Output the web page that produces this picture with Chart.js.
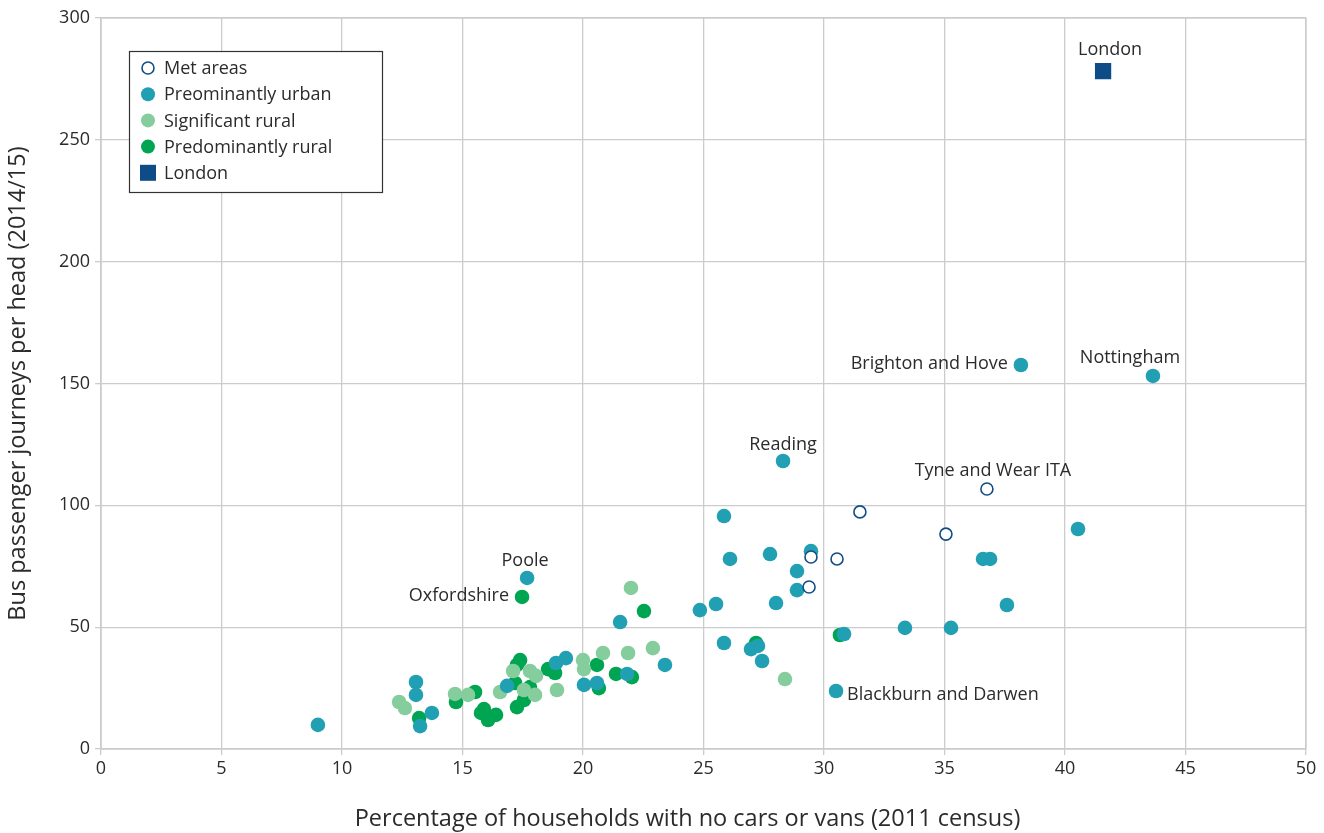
<!DOCTYPE html>
<html>
<head>
<meta charset="utf-8">
<script src="https://cdn.jsdelivr.net/npm/chart.js@4"></script>
<style>
  html, body { margin: 0; padding: 0; background: #fff; }
  #wrap { width: 1324px; height: 833px; }
</style>
</head>
<body>
<div id="wrap"><canvas id="BusChart"></canvas></div>
<script>
// values: x = % households with no car, y = journeys per head
var metX = [36.76, 31.49, 35.06, 29.46, 30.54, 29.38];
var metY = [106.7, 97.3, 88.2, 78.8, 78.0, 66.5];

var urbanX = [9.00, 13.07, 13.07, 13.24, 13.73, 16.85, 18.88, 19.29, 20.04, 20.58, 21.83, 23.40, 21.54, 17.68,
  24.85, 25.52, 25.85, 26.10, 25.85, 27.26, 26.97, 27.43, 27.76, 28.01, 28.30, 28.88, 28.88, 29.46,
  30.83, 30.50, 33.36, 35.27, 36.60, 36.89, 37.59, 40.54, 38.17, 43.65];
var urbanY = [9.9, 27.5, 22.2, 9.4, 14.8, 25.9, 35.3, 37.3, 26.3, 27.1, 30.8, 34.5, 52.1, 70.2,
  57.0, 59.5, 95.6, 78.0, 43.5, 42.3, 41.0, 36.1, 80.0, 59.9, 118.2, 73.0, 65.2, 81.2,
  47.2, 23.8, 49.7, 49.7, 78.0, 78.0, 59.1, 90.3, 157.6, 153.1];

var sigRuralX = [12.37, 12.61, 14.69, 15.23, 16.56, 17.55, 18.01, 17.10, 17.80, 18.05, 18.92, 20.00, 20.04,
  20.83, 21.87, 22.90, 21.99, 28.38];
var sigRuralY = [19.3, 16.8, 22.6, 22.2, 23.4, 24.2, 22.2, 32.0, 32.0, 30.0, 24.2, 36.5, 32.8,
  39.4, 39.4, 41.4, 66.1, 28.7];

var predRuralX = [13.20, 14.73, 15.52, 15.77, 15.89, 16.06, 16.39, 17.18, 17.26, 17.55, 17.80, 17.39, 17.26,
  18.55, 18.84, 20.58, 20.66, 21.37, 22.03, 22.53, 17.47, 27.18, 30.66];
var predRuralY = [12.7, 19.3, 23.4, 14.8, 16.4, 11.9, 14.0, 27.1, 17.2, 20.1, 25.4, 36.5, 34.5,
  32.8, 31.2, 34.5, 25.0, 30.8, 29.5, 56.6, 62.4, 43.5, 46.8];

var londonX = [41.58];
var londonY = [278.2];

var seriesNames = ["Met areas", "Preominantly urban", "Significant rural", "Predominantly rural", "London"];
var xTitle = "Percentage of households with no cars or vans (2011 census)";
var yTitle = "Bus passenger journeys per head (2014/15)";

// named points: series index, point index in that series
var pointLabels = [
  { text: "London", series: 4, index: 0 },
  { text: "Nottingham", series: 1, index: 37 },
  { text: "Brighton and Hove", series: 1, index: 36 },
  { text: "Reading", series: 1, index: 24 },
  { text: "Tyne and Wear ITA", series: 0, index: 0 },
  { text: "Poole", series: 1, index: 13 },
  { text: "Oxfordshire", series: 3, index: 20 },
  { text: "Blackburn and Darwen", series: 1, index: 29 }
];
// where each label sits relative to its point (pixels)
var labelPlace = {
  "London": [7, -21, "center"],
  "Nottingham": [-23, -18, "center"],
  "Brighton and Hove": [-13, -1, "right"],
  "Reading": [0, -16, "center"],
  "Tyne and Wear ITA": [6, -18, "center"],
  "Poole": [-2, -17, "center"],
  "Oxfordshire": [-13, -1, "right"],
  "Blackburn and Darwen": [11, 4, "left"]
};

function toPoints(xs, ys) {
  return xs.map(function (x, i) { return { x: x, y: ys[i] }; });
}

var FONT = "'Open Sans', Lato, sans-serif";
var TEXT = "#2b2b2b";

var labelPlugin = {
  id: "pointLabels",
  afterDatasetsDraw: function (chart) {
    var ctx = chart.ctx;
    ctx.save();
    ctx.font = "18px " + FONT;
    ctx.fillStyle = TEXT;
    ctx.textBaseline = "middle";
    pointLabels.forEach(function (l) {
      var el = chart.getDatasetMeta(l.series).data[l.index];
      var p = labelPlace[l.text];
      ctx.textAlign = p[2];
      ctx.fillText(l.text, el.x + p[0], el.y + p[1]);
    });
    // x axis title sits a little left of the plot centre in the original
    var a = chart.chartArea;
    ctx.font = "23.5px " + FONT;
    ctx.textAlign = "center";
    ctx.fillText(xTitle, (a.left + a.right) / 2 - 16, a.bottom + 70);
    ctx.restore();
  }
};

var legendPlugin = {
  id: "boxLegend",
  afterDraw: function (chart) {
    var ctx = chart.ctx;
    var bx = 129, by = 51, bw = 253, bh = 141;
    ctx.save();
    ctx.fillStyle = "#fff";
    ctx.fillRect(bx, by, bw, bh);
    ctx.strokeStyle = "#333";
    ctx.lineWidth = 1.2;
    ctx.strokeRect(bx + 0.5, by + 0.5, bw, bh);
    ctx.font = "18px " + FONT;
    ctx.textBaseline = "middle";
    ctx.textAlign = "left";
    chart.data.datasets.forEach(function (ds, i) {
      var cy = by + 17 + i * 26.2;
      var cx = bx + 19;
      ctx.beginPath();
      if (ds.pointStyle === "rect") {
        ctx.fillStyle = ds.backgroundColor;
        ctx.fillRect(cx - 8, cy - 8, 16, 16);
      } else {
        ctx.arc(cx, cy, ds.borderWidth > 1 ? 6 : 7, 0, Math.PI * 2);
        ctx.fillStyle = ds.backgroundColor;
        ctx.fill();
        if (ds.borderWidth > 1) {
          ctx.lineWidth = ds.borderWidth;
          ctx.strokeStyle = ds.borderColor;
          ctx.stroke();
        }
      }
      ctx.fillStyle = TEXT;
      ctx.fillText(ds.label, bx + 35, cy + 1);
    });
    ctx.restore();
  }
};

var ctx = document.getElementById("BusChart").getContext("2d");
var bus_chart = new Chart(ctx, {
  type: "scatter",
  data: {
    datasets: [
      {
        label: seriesNames[0],
        data: toPoints(metX, metY),
        pointStyle: "circle",
        pointRadius: 6,
        backgroundColor: "#ffffff",
        borderColor: "#124d86",
        borderWidth: 1.6
      },
      {
        label: seriesNames[1],
        data: toPoints(urbanX, urbanY),
        pointStyle: "circle",
        pointRadius: 7.3,
        backgroundColor: "#22a0b3",
        borderColor: "#22a0b3",
        borderWidth: 0
      },
      {
        label: seriesNames[2],
        data: toPoints(sigRuralX, sigRuralY),
        pointStyle: "circle",
        pointRadius: 7.3,
        backgroundColor: "#85cd9d",
        borderColor: "#85cd9d",
        borderWidth: 0
      },
      {
        label: seriesNames[3],
        data: toPoints(predRuralX, predRuralY),
        pointStyle: "circle",
        pointRadius: 7.3,
        backgroundColor: "#00a551",
        borderColor: "#00a551",
        borderWidth: 0
      },
      {
        label: seriesNames[4],
        data: toPoints(londonX, londonY),
        pointStyle: "rect",
        pointRadius: 11.5,
        backgroundColor: "#0e4c87",
        borderColor: "#0e4c87",
        borderWidth: 0
      }
    ]
  },
  options: {
    responsive: true,
    maintainAspectRatio: false,
    animation: false,
    layout: { padding: { top: 18, right: 18, left: 0, bottom: 0 } },
    plugins: {
      legend: { display: false },
      tooltip: { enabled: false }
    },
    scales: {
      x: {
        type: "linear",
        min: 0,
        max: 50,
        ticks: { stepSize: 5, color: TEXT, font: { family: FONT, size: 18 }, padding: 3 },
        grid: { color: "#cccccc", lineWidth: 1.3, drawTicks: true, tickLength: 6 },
        border: { color: "#cccccc", width: 1.3 },
        title: { display: false },
        afterFit: function (s) { s.height = 84; }
      },
      y: {
        type: "linear",
        min: 0,
        max: 300,
        ticks: { stepSize: 50, color: TEXT, font: { family: FONT, size: 18 }, padding: 5 },
        grid: { color: "#cccccc", lineWidth: 1.3, drawTicks: true, tickLength: 6 },
        border: { color: "#cccccc", width: 1.3 },
        title: {
          display: true,
          text: yTitle,
          color: TEXT,
          font: { family: FONT, size: 23.5 },
          padding: { top: 4, bottom: 0 }
        },
        afterFit: function (s) { s.width = 101; }
      }
    }
  },
  plugins: [labelPlugin, legendPlugin, {
    id: "frame",
    beforeDatasetsDraw: function (chart) {
      var a = chart.chartArea, c = chart.ctx;
      c.save();
      c.strokeStyle = "#cccccc";
      c.lineWidth = 1.3;
      c.strokeRect(a.left, a.top, a.right - a.left, a.bottom - a.top);
      c.restore();
    }
  }]
});
</script>
</body>
</html>
